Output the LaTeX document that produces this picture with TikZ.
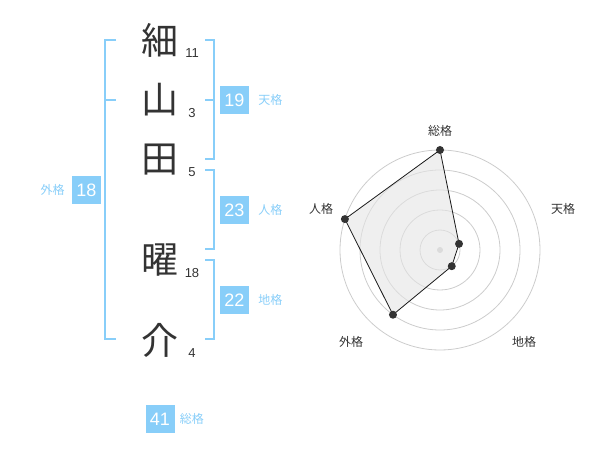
\documentclass[tikz,border=0pt]{standalone}
\usepackage{fontspec}
\setmainfont{Liberation Sans}
\newfontfamily\jpfont{Noto Sans CJK JP}
\usetikzlibrary{positioning}
\definecolor{kakublue}{HTML}{88CEF9}
\definecolor{inkgray}{HTML}{333333}
\tikzset
{
    kanji/.style    = {font=\jpfont\fontsize{37}{37}\selectfont, text=inkgray, inner sep=0pt},
    stroke/.style   = {font=\fontsize{13}{13}\selectfont, text=inkgray, inner sep=0pt},
    kakubox/.style  = {fill=kakublue, text=white, font=\fontsize{18}{18}\selectfont, minimum width=29pt, minimum height=28pt, inner sep=0pt},
    kakuname/.style = {font=\jpfont\fontsize{12}{12}\selectfont, text=kakublue, inner sep=0pt},
    bracket/.style  = {draw=kakublue, line width=2pt},
    ring/.style     = {draw=black!20, line width=0.8pt},
    axisname/.style = {font=\jpfont\fontsize{12}{12}\selectfont, text=inkgray, inner sep=0pt}
}

\begin{document}
\begin{tikzpicture}[x=1pt, y=-1pt]
    \useasboundingbox (0,0) rectangle (600,470);
    % name and stroke counts
    \node [kanji] (k1) at (160,40)  {細};
    \node [kanji] (k2) at (160,100) {山};
    \node [kanji] (k3) at (160,160) {田};
    \node [kanji] (k4) at (160,260) {曜};
    \node [kanji] (k5) at (160,340) {介};
    \node [stroke] (s1) at (192,53)  {11};
    \node [stroke] (s2) at (192,113) {3};
    \node [stroke] (s3) at (192,172) {5};
    \node [stroke] (s4) at (192,273) {18};
    \node [stroke] (s5) at (192,353) {4};

    % brackets
    \draw [bracket] (116,40) -- (105,40) -- (105,339) -- (116,339);
    \draw [bracket] (105,100) -- (116,100);
    \draw [bracket] (205,40) -- (214,40) -- (214,159) -- (205,159);
    \draw [bracket] (205,100) -- (214,100);
    \draw [bracket] (205,170) -- (214,170) -- (214,249) -- (205,249);
    \draw [bracket] (205,260) -- (214,260) -- (214,339) -- (205,339);

    % scores
    \node [kakubox] (ten)   at (234.5,100) {19};
    \node [kakuname, right=9pt of ten] (tenname) {天格};
    \node [kakubox] (jin)   at (234.5,210) {23};
    \node [kakuname, right=9pt of jin] (jinname) {人格};
    \node [kakubox] (chi)   at (234.5,300) {22};
    \node [kakuname, right=9pt of chi] (chiname) {地格};
    \node [kakubox] (gai)   at (86.5,190) {18};
    \node [kakuname, left=7pt of gai] (gainame) {外格};
    \node [kakubox] (sou)   at (160,419) {41};
    \node [kakuname, right=5pt of sou] (souname) {総格};

    % radar
    \begin{scope}[shift={(440,250)}]
        \foreach \r in {20,40,...,100}
            \draw [ring] (0,0) circle [radius=\r pt];
        \fill [black!20] (0,0) circle [radius=3pt];
        \coordinate (p1) at (90:100pt);
        \coordinate (p2) at (18:20pt);
        \coordinate (p3) at (-54:20pt);
        \coordinate (p4) at (-126:80pt);
        \coordinate (p5) at (162:100pt);
        \filldraw [fill=black!10, fill opacity=0.6, draw=black!90, line width=0.8pt]
            (p1) -- (p2) -- (p3) -- (p4) -- (p5) -- cycle;
        \foreach \i in {1,...,5}
            \fill [inkgray] (p\i) circle [radius=4pt];
    \end{scope}
    \node [axisname] (a1) at (440,131) {総格};
    \node [axisname] (a2) at (563,209) {天格};
    \node [axisname] (a3) at (524,342) {地格};
    \node [axisname] (a4) at (351,342) {外格};
    \node [axisname] (a5) at (321,209) {人格};
\end{tikzpicture}
\end{document}
